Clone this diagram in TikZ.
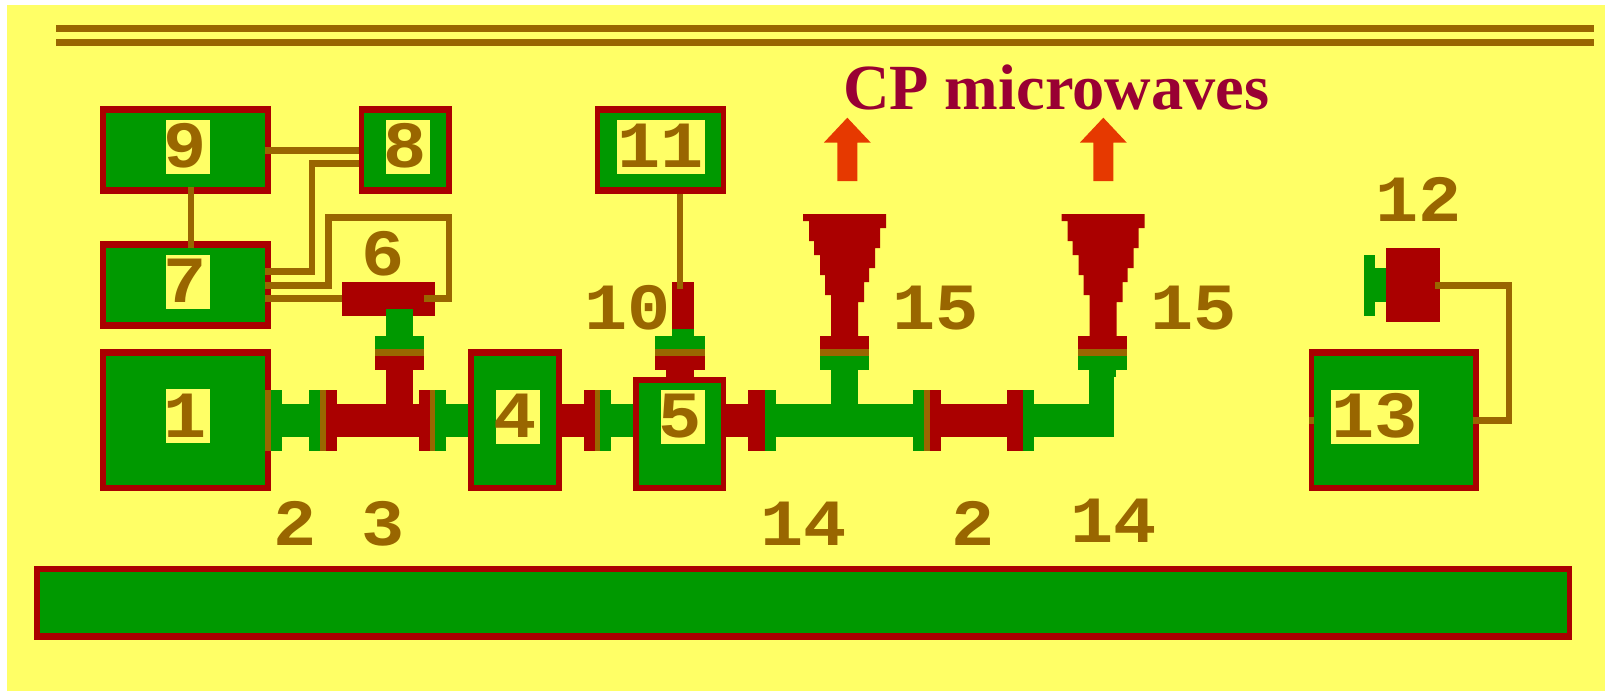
\documentclass[tikz,border=0pt]{standalone}
\usepackage{fontspec}
\setmainfont{Liberation Serif}
\newfontfamily\pixelfont[FakeStretch=1.09]{Liberation Mono}
\usetikzlibrary{calc}
\definecolor{cyel}{HTML}{FFFF66}
\definecolor{cred}{HTML}{AA0000}
\definecolor{cgrn}{HTML}{009900}
\definecolor{cbrn}{HTML}{996600}
\definecolor{cttl}{HTML}{990033}
\definecolor{corg}{HTML}{E63900}
\tikzset{
  outerbox/.style={fill=cred,draw=none,inner sep=0pt,outer sep=0pt},
  digit/.style={text=cbrn,inner sep=0pt,outer sep=0pt,anchor=base,font=\pixelfont\bfseries\fontsize{33}{33}\selectfont},
  wire/.style={draw=cbrn,line width=3.25pt,line cap=butt,line join=miter},
  title/.style={text=cttl,inner sep=0pt,outer sep=0pt,anchor=base west,font=\bfseries\fontsize{32.2}{32.2}\selectfont},
}
% rectangle in pixel coordinates
\newcommand\rc[5]{\fill[#1] (#2,#3) rectangle (#4,#5);}
% named box: outer x0 y0 x1 y1, inner x0 y0 x1 y1
\newcommand\pbox[9]{%
  \node[outerbox,minimum width={(#4-#2)*0.5pt},minimum height={(#5-#3)*0.5pt}] (#1) at ({(#2+#4)/2},{(#3+#5)/2}) {};
  \fill[cgrn] (#6,#7) rectangle (#8,#9);}
% digits: name, centre x, baseline y, text
\newcommand\dig[4]{\node[digit] (#1) at (#2,#3) {#4};}
\newcommand\uparrowshape[1]{%
  \fill[corg] (#1,117.7) -- (#1+23.5,142.7) -- (#1+10,142.7) -- (#1+10,181) -- (#1-10,181) -- (#1-10,142.7) -- (#1-23.5,142.7) -- cycle;}
\newcommand\horn[1]{% x = offset from first horn
  \fill[cred] (803+#1,214) -- (886+#1,214) -- (886+#1,228) -- (880+#1,228) -- (880+#1,248) -- (875+#1,248) -- (875+#1,268) -- (869+#1,268) -- (869+#1,282) -- (864+#1,282) -- (864+#1,302) -- (858+#1,302) -- (858+#1,336)
   -- (831+#1,336) -- (831+#1,295) -- (825+#1,295) -- (825+#1,275) -- (820+#1,275) -- (820+#1,255) -- (814+#1,255) -- (814+#1,241) -- (809+#1,241) -- (809+#1,221) -- (803+#1,221) -- cycle;}
\begin{document}
\begin{tikzpicture}[x=0.5pt,y=-0.5pt]
\useasboundingbox (0,0) rectangle (1605,691);
\fill[white] (0,0) rectangle (1605,691);
\fill[cyel] (7,5) rectangle (1605,691);
% top rails
\rc{cbrn}{56}{25}{1594}{32}
\rc{cbrn}{56}{39}{1594}{46}
% bottom bar
\pbox{bar}{34}{566}{1572}{640}{40}{572}{1567}{633}
% arrows and title
\uparrowshape{847.3}
\uparrowshape{1103.3}
\node[title] (ttl) at (843,109) {CP microwaves};
% horns
\horn{0}
\horn{258.5}
% waveguide: box 1 to box 4
\rc{cgrn}{271}{390}{282}{451}
\rc{cgrn}{282}{404}{309}{437}
\rc{cgrn}{309}{390}{320}{451}
\rc{cbrn}{320}{390}{326}{451}
\rc{cred}{326}{390}{337}{451}
\rc{cred}{337}{404}{419}{437}
\rc{cred}{419}{390}{430}{451}
\rc{cbrn}{430}{390}{435}{451}
\rc{cgrn}{435}{390}{446}{451}
\rc{cgrn}{446}{404}{468}{437}
% box 4 to box 5
\rc{cred}{562}{404}{584}{437}
\rc{cred}{584}{390}{595}{451}
\rc{cbrn}{595}{390}{600}{451}
\rc{cgrn}{600}{390}{611}{451}
\rc{cgrn}{611}{404}{633}{437}
% box 5 onward
\rc{cred}{726}{404}{748}{437}
\rc{cred}{748}{390}{765}{451}
\rc{cgrn}{765}{390}{776}{451}
\rc{cgrn}{776}{404}{913}{437}
\rc{cgrn}{913}{390}{924}{451}
\rc{cbrn}{924}{390}{930}{451}
\rc{cred}{930}{390}{941}{451}
\rc{cred}{941}{404}{1007}{437}
\rc{cred}{1007}{390}{1023}{451}
\rc{cgrn}{1023}{390}{1034}{451}
\rc{cgrn}{1034}{404}{1114}{437}
% branch under horn 1
\rc{cgrn}{831}{370}{858}{404}
\rc{cgrn}{820}{356}{869}{370}
\rc{cbrn}{820}{349}{869}{356}
\rc{cred}{820}{336}{869}{349}
% branch under horn 2
\rc{cgrn}{1089}{370}{1116}{377}
\rc{cgrn}{1089}{377}{1114}{404}
\rc{cgrn}{1078}{356}{1127}{370}
\rc{cbrn}{1078}{349}{1127}{356}
\rc{cred}{1078}{336}{1127}{349}
% unit 6 with its branch
\node[outerbox,minimum width={93*0.5pt},minimum height={34*0.5pt}] (d6) at (388.5,299) {};
\rc{cgrn}{386}{309}{413}{336}
\rc{cgrn}{375}{336}{424}{349}
\rc{cbrn}{375}{349}{424}{356}
\rc{cred}{375}{356}{424}{370}
\rc{cred}{386}{370}{413}{404}
% unit 10 with its branch
\node[outerbox,minimum width={22*0.5pt},minimum height={47*0.5pt}] (d10) at (683,305.5) {};
\rc{cgrn}{672}{329}{694}{336}
\rc{cgrn}{655}{336}{705}{349}
\rc{cbrn}{655}{349}{705}{356}
\rc{cred}{655}{356}{705}{370}
\rc{cred}{666}{370}{694}{377}
% unit 12
\node[outerbox,minimum width={54*0.5pt},minimum height={74*0.5pt}] (d12) at (1413,285) {};
\rc{cgrn}{1375}{268}{1386}{302}
\rc{cgrn}{1364}{255}{1375}{316}
% boxes
\pbox{b9}{100}{106}{271}{194}{106}{113}{265}{187}
\pbox{b8}{359}{106}{452}{194}{364}{113}{446}{187}
\pbox{b7}{100}{241}{271}{329}{106}{248}{265}{322}
\pbox{b1}{100}{349}{271}{491}{106}{356}{265}{485}
\pbox{b4}{468}{349}{562}{491}{474}{356}{556}{485}
\pbox{b5}{633}{377}{726}{491}{639}{383}{721}{485}
\pbox{b11}{595}{106}{726}{194}{600}{113}{721}{187}
\pbox{b13}{1309}{349}{1479}{491}{1314}{356}{1473}{485}
% label plates
\rc{cyel}{166}{120}{210}{174}
\rc{cyel}{386}{120}{430}{174}
\rc{cyel}{166}{255}{210}{309}
\rc{cyel}{166}{389}{210}{443}
\rc{cyel}{496}{390}{540}{444}
\rc{cyel}{661}{390}{705}{444}
\rc{cyel}{617}{120}{705}{174}
\rc{cyel}{1331}{390}{1419}{444}
% brown strip at box 1 and stub at box 13
\rc{cbrn}{265}{390}{271}{451}
\rc{cbrn}{1309}{417}{1314}{424}
% labels
\dig{n9}{185.5}{167}{9}
\dig{n8}{405}{167}{8}
\dig{n7}{185.5}{302}{7}
\dig{n1}{185.5}{437}{1}
\dig{n4}{515}{437}{4}
\dig{n5}{680}{437}{5}
\dig{n11}{660.5}{167}{11}
\dig{n13}{1374.5}{437}{13}
\dig{n6}{383}{275}{6}
\dig{n10}{627.5}{329}{10}
\dig{n15a}{935.5}{329}{15}
\dig{n15b}{1193.5}{329}{15}
\dig{n12}{1418.5}{221}{12}
\dig{n2a}{295.5}{545}{2}
\dig{n3}{383}{545}{3}
\dig{n14a}{803.5}{545}{14}
\dig{n2b}{973.5}{545}{2}
\dig{n14b}{1113.5}{542}{14}
% wires
\coordinate (c98a) at ([shift={(-6,0.5)}]b9.east);
\draw[wire] (c98a) -- (c98a -| b8.west);
\draw[wire] ([shift={(5.5,-7)}]b9.south) -- ([shift={(5.5,7)}]b7.north);
\coordinate (c87a) at ([shift={(0,13.5)}]b8.west);
\coordinate (c87b) at ([shift={(-6,-13.5)}]b7.east);
\coordinate (c87m) at (312,217);
\draw[wire] (c87a) -- (c87a -| c87m) -- (c87b -| c87m) -- (c87b);
\coordinate (c76a) at ([shift={(-6,0.5)}]b7.east);
\coordinate (c76n) at (328.5,217.5);
\coordinate (c76e) at (449,217.5);
\coordinate (c76z) at ([shift={(-11,-0.5)}]d6.east);
\draw[wire] (c76a) -- (c76a -| c76n) -- (c76n) -- (c76e) -- (c76e |- c76z) -- (c76z);
\coordinate (c76b) at ([shift={(-6,13.5)}]b7.east);
\draw[wire] (c76b) -- (c76b -| d6.west);
\draw[wire] ([shift={(19.5,0)}]b11.south) -- ([shift={(-3,7)}]d10.north);
\coordinate (c12a) at ([shift={(-5,0.5)}]d12.east);
\coordinate (c13a) at ([shift={(-6,0.5)}]b13.east);
\coordinate (c12m) at (1509,285.5);
\draw[wire] (c12a) -- (c12m) -- (c12m |- c13a) -- (c13a);
\end{tikzpicture}
\end{document}
